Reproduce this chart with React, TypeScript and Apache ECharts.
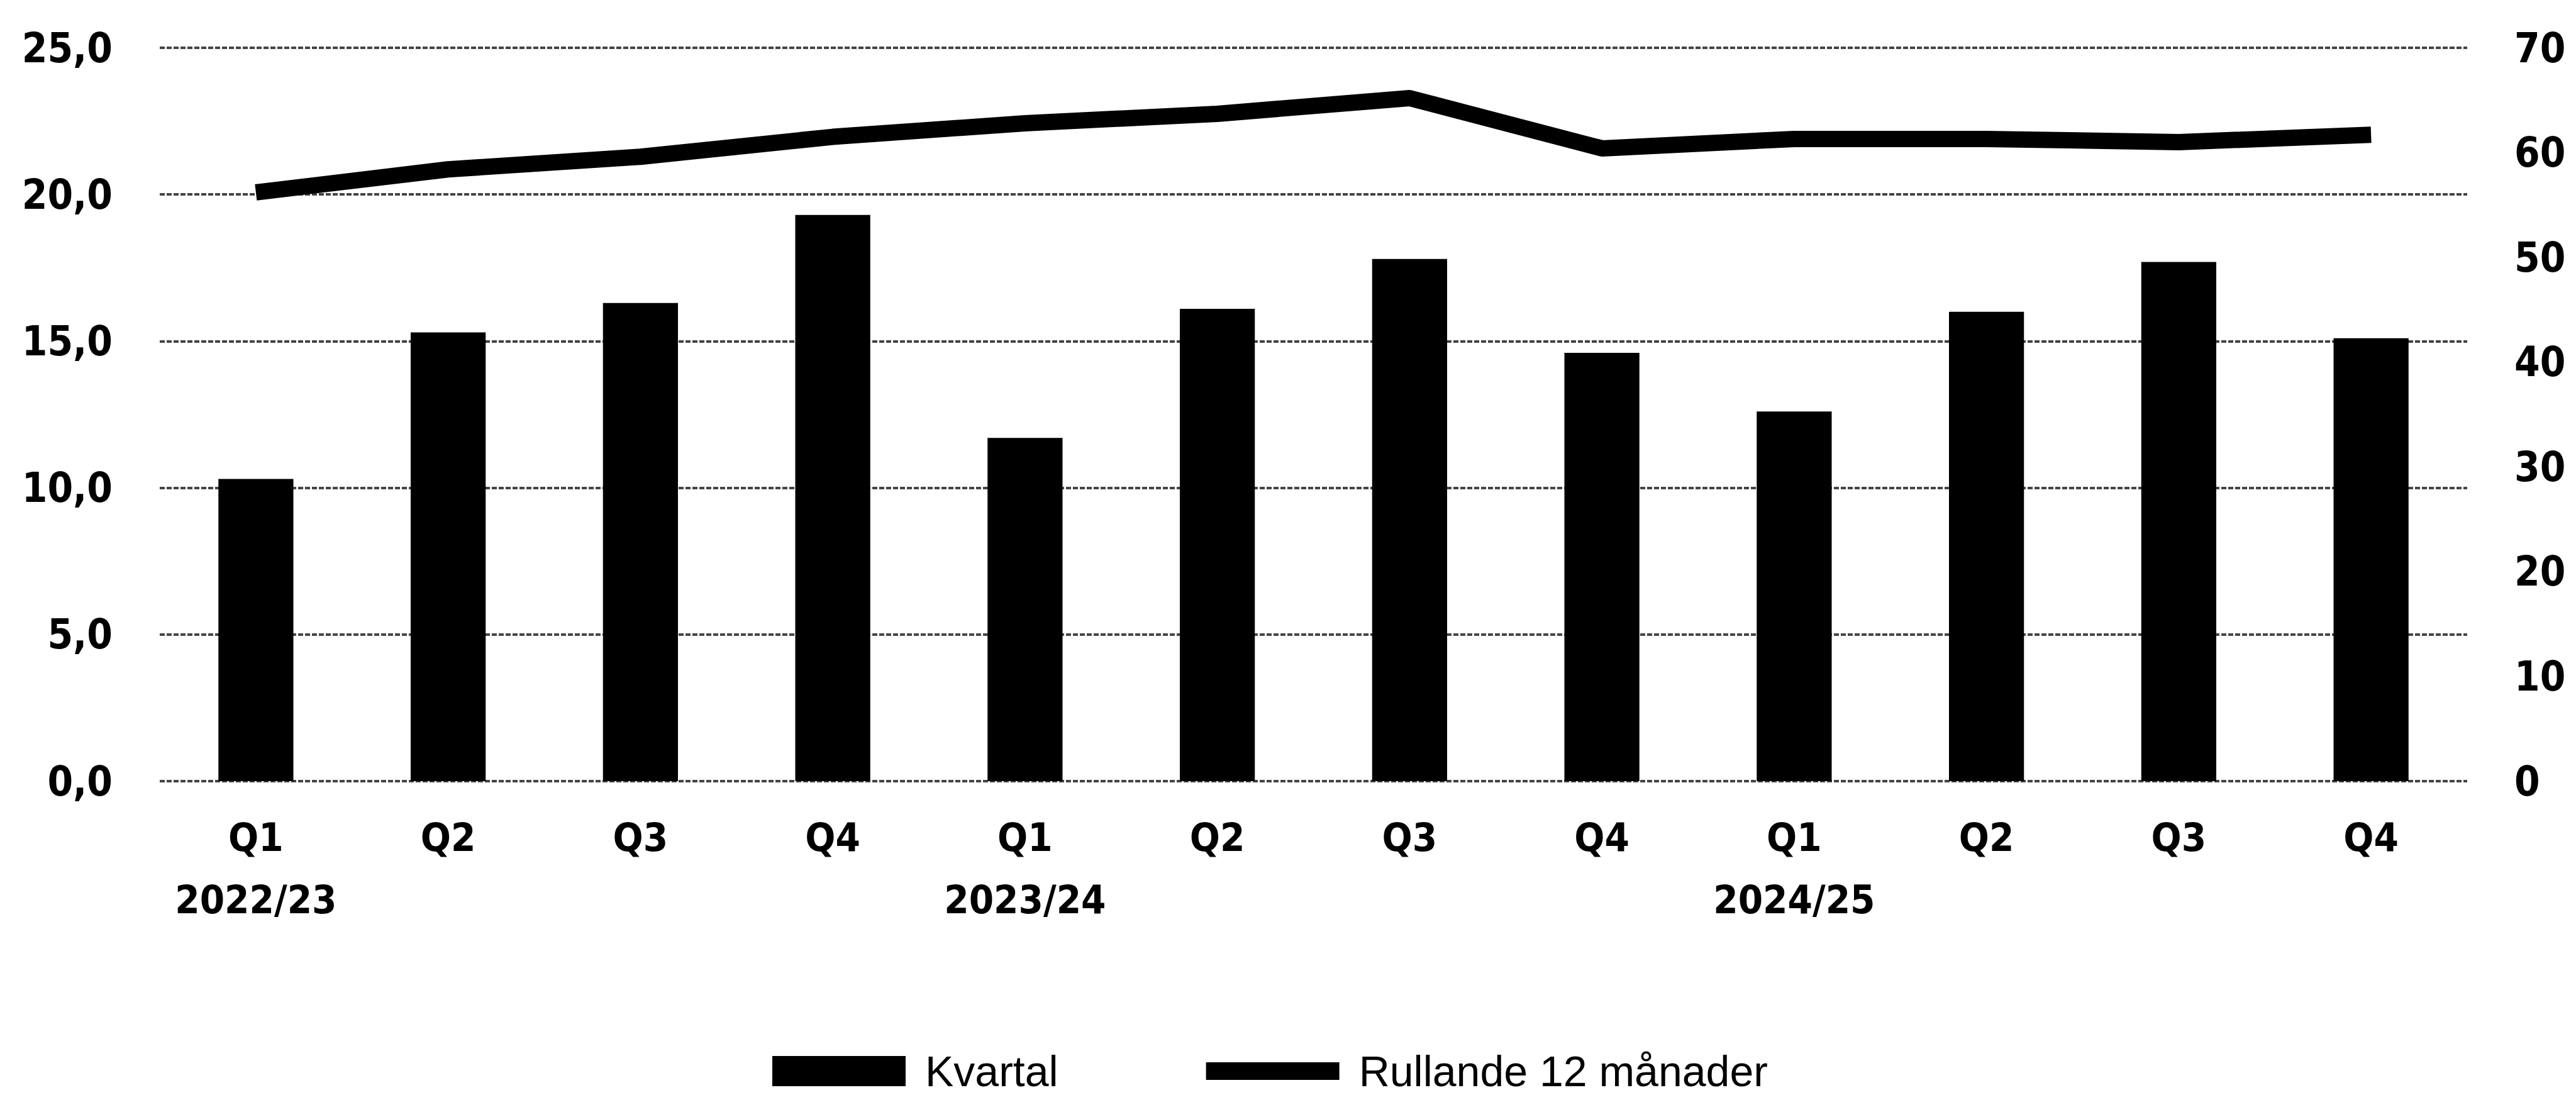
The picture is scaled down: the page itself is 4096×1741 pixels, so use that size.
import React, { useEffect, useRef } from "react";
import * as echarts from "echarts";

const categories = [
  "Q1\n2022/23", "Q2", "Q3", "Q4",
  "Q1\n2023/24", "Q2", "Q3", "Q4",
  "Q1\n2024/25", "Q2", "Q3", "Q4",
];
const kvartal = [10.3, 15.3, 16.3, 19.3, 11.7, 16.1, 17.8, 14.6, 12.6, 16.0, 17.7, 15.1];
const rullande = [56.2, 58.4, 59.6, 61.5, 62.8, 63.7, 65.2, 60.4, 61.3, 61.3, 61.0, 61.7];
const leftTicks = { min: 0, max: 25, interval: 5 };
const rightTicks = { min: 0, max: 70, interval: 10 };
const seriesNames = ["Kvartal", "Rullande 12 månader"];

const labelFont = '"DejaVu Sans Condensed", "DejaVu Sans", sans-serif';
const legendFont = '"Liberation Sans Narrow", "Liberation Sans", sans-serif';
const lineIcon =
  "path://M0,0L212,0L212,0.01L0,0.01Z M0,10L212,10L212,38L0,38Z M0,47.99L212,47.99L212,48L0,48Z";

export default function App() {
  const ref = useRef<HTMLDivElement>(null);
  useEffect(() => {
    if (!ref.current) return;
    const chart = echarts.init(ref.current, null, { renderer: "svg" });
    chart.setOption({
      animation: false,
      backgroundColor: "#ffffff",
      grid: { left: 254, right: 173, top: 76, height: 1166 },
      legend: {
        data: [
          { name: seriesNames[0], icon: "rect" },
          { name: seriesNames[1], icon: lineIcon },
        ],
        left: 1228,
        top: 1669,
        padding: 0,
        itemWidth: 212,
        itemHeight: 48,
        itemGap: 235,
        itemStyle: { borderWidth: 0 },
        textStyle: {
          fontFamily: legendFont,
          fontSize: 68,
          lineHeight: 68,
          color: "#000",
          padding: [0, 0, 0, 26],
        },
      },
      xAxis: {
        type: "category",
        data: categories,
        axisLine: { show: false },
        axisTick: { show: false },
        axisLabel: {
          interval: 0,
          margin: 40,
          fontFamily: labelFont,
          fontWeight: "bold",
          fontSize: 63,
          lineHeight: 99,
          color: "#000",
        },
      },
      yAxis: [
        {
          type: "value",
          min: leftTicks.min,
          max: leftTicks.max,
          interval: leftTicks.interval,
          axisLine: { show: false },
          axisTick: { show: false },
          axisLabel: {
            margin: 75,
            fontFamily: labelFont,
            fontWeight: "bold",
            fontSize: 65,
            color: "#000",
            formatter: (v: number) => v.toFixed(1).replace(".", ","),
          },
          splitLine: {
            show: true,
            lineStyle: { color: "#444", width: 4, type: [8, 3] },
          },
        },
        {
          type: "value",
          min: rightTicks.min,
          max: rightTicks.max,
          interval: rightTicks.interval,
          position: "right",
          axisLine: { show: false },
          axisTick: { show: false },
          splitLine: { show: false },
          axisLabel: {
            margin: 75,
            fontFamily: labelFont,
            fontWeight: "bold",
            fontSize: 65,
            color: "#000",
          },
        },
      ],
      series: [
        {
          name: seriesNames[0],
          type: "bar",
          data: kvartal,
          barWidth: "39%",
          itemStyle: { color: "#000" },
          yAxisIndex: 0,
        },
        {
          name: seriesNames[1],
          type: "line",
          data: rullande,
          yAxisIndex: 1,
          symbol: "none",
          lineStyle: { color: "#000", width: 26 },
          itemStyle: { color: "#000" },
        },
      ],
    });
    return () => chart.dispose();
  }, []);
  return (
    <div
      ref={ref}
      style={{ position: "absolute", left: 0, top: 0, width: 4096, height: 1741 }}
    />
  );
}
